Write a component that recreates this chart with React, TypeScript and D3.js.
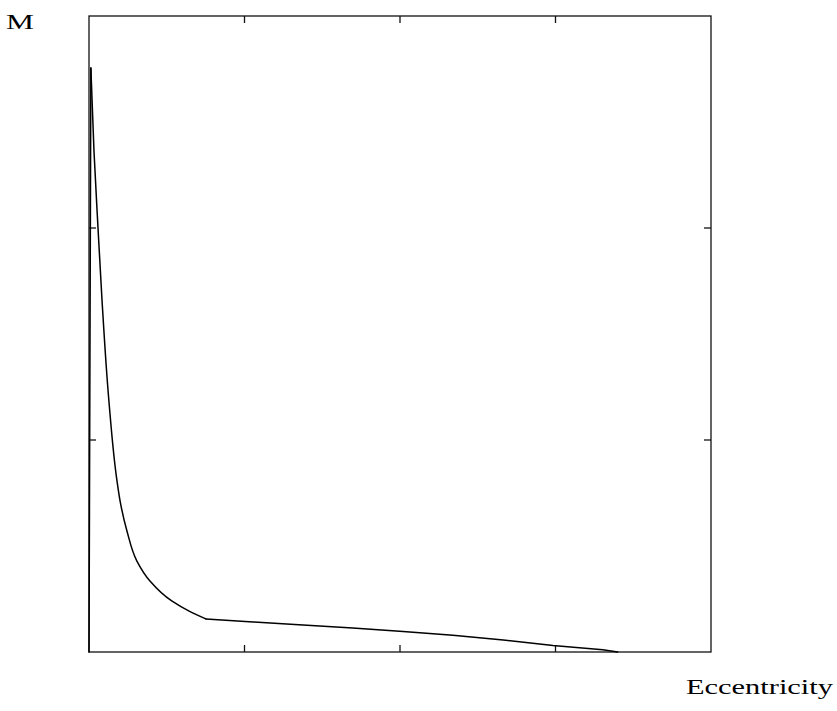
import React, { useEffect, useRef } from 'react';
import * as d3 from 'd3';

// eccentricity (x) and M (y)
// rise from the origin to the peak
const riseEcc = [0, 0.003];
const riseM = [0, 2.755];
// fall from the peak down to the knee
const fallEcc = [0.003, 0.008, 0.0145, 0.021, 0.032, 0.045, 0.05, 0.061, 0.077, 0.098, 0.133, 0.161, 0.188];
const fallM = [2.755, 2.363, 2.0, 1.656, 1.184, 0.807, 0.712, 0.571, 0.429, 0.335, 0.241, 0.193, 0.156];
// slow tail after the knee
const tailEcc = [0.188, 0.264, 0.344, 0.424, 0.505, 0.585, 0.666, 0.746, 0.826, 0.85];
const tailM = [0.156, 0.142, 0.127, 0.113, 0.097, 0.079, 0.057, 0.031, 0.011, 0];
const xTicks = [0.25, 0.5, 0.75];
const yTicks = [1, 2];

const App = () => {
  const ref = useRef<SVGSVGElement | null>(null);

  useEffect(() => {
    if (!ref.current) return;
    const svg = d3.select(ref.current);
    svg.selectAll('*').remove();

    const left = 89, right = 711, top = 16, bottom = 652;
    const x = d3.scaleLinear().domain([0, 1]).range([left, right]);
    const y = d3.scaleLinear().domain([0, 3]).range([bottom, top]);
    const tick = 7;

    // frame
    svg.append('rect')
      .attr('x', left).attr('y', top)
      .attr('width', right - left).attr('height', bottom - top)
      .attr('fill', 'none').attr('stroke', '#111').attr('stroke-width', 1.3);

    // inward ticks on all four sides
    const t = svg.append('g').attr('stroke', '#111').attr('stroke-width', 1.3);
    xTicks.forEach(v => {
      t.append('line').attr('x1', x(v)).attr('x2', x(v)).attr('y1', bottom).attr('y2', bottom - tick);
      t.append('line').attr('x1', x(v)).attr('x2', x(v)).attr('y1', top).attr('y2', top + tick);
    });
    yTicks.forEach(v => {
      t.append('line').attr('x1', left).attr('x2', left + tick).attr('y1', y(v)).attr('y2', y(v));
      t.append('line').attr('x1', right).attr('x2', right - tick).attr('y1', y(v)).attr('y2', y(v));
    });

    const toPts = (xs: number[], ys: number[]): [number, number][] => xs.map((e, i) => [e, ys[i]]);

    const straight = d3.line<[number, number]>()
      .x(d => x(d[0]))
      .y(d => y(d[1]));
    const smooth = d3.line<[number, number]>()
      .x(d => x(d[0]))
      .y(d => y(d[1]))
      .curve(d3.curveMonotoneY);

    [
      straight(toPts(riseEcc, riseM)),
      smooth(toPts(fallEcc, fallM)),
      straight(toPts(tailEcc, tailM)),
    ].forEach(d => {
      svg.append('path')
        .attr('d', d)
        .attr('fill', 'none')
        .attr('stroke', '#000')
        .attr('stroke-width', 1.5)
        .attr('stroke-linejoin', 'round')
        .attr('stroke-linecap', 'round');
    });

    svg.append('text')
      .attr('x', 6).attr('y', 29)
      .attr('font-family', '"Liberation Serif", "DejaVu Serif", serif')
      .attr('font-size', 21)
      .attr('textLength', 28)
      .attr('lengthAdjust', 'spacingAndGlyphs')
      .text('M');

    svg.append('text')
      .attr('x', 686).attr('y', 694)
      .attr('font-family', '"Liberation Serif", "DejaVu Serif", serif')
      .attr('font-size', 22)
      .attr('textLength', 147)
      .attr('lengthAdjust', 'spacingAndGlyphs')
      .text('Eccentricity');
  }, []);

  return (
    <svg
      ref={ref}
      width={837}
      height={711}
      style={{ position: 'absolute', left: 0, top: 0, background: '#fff' }}
    />
  );
};

export default App;
